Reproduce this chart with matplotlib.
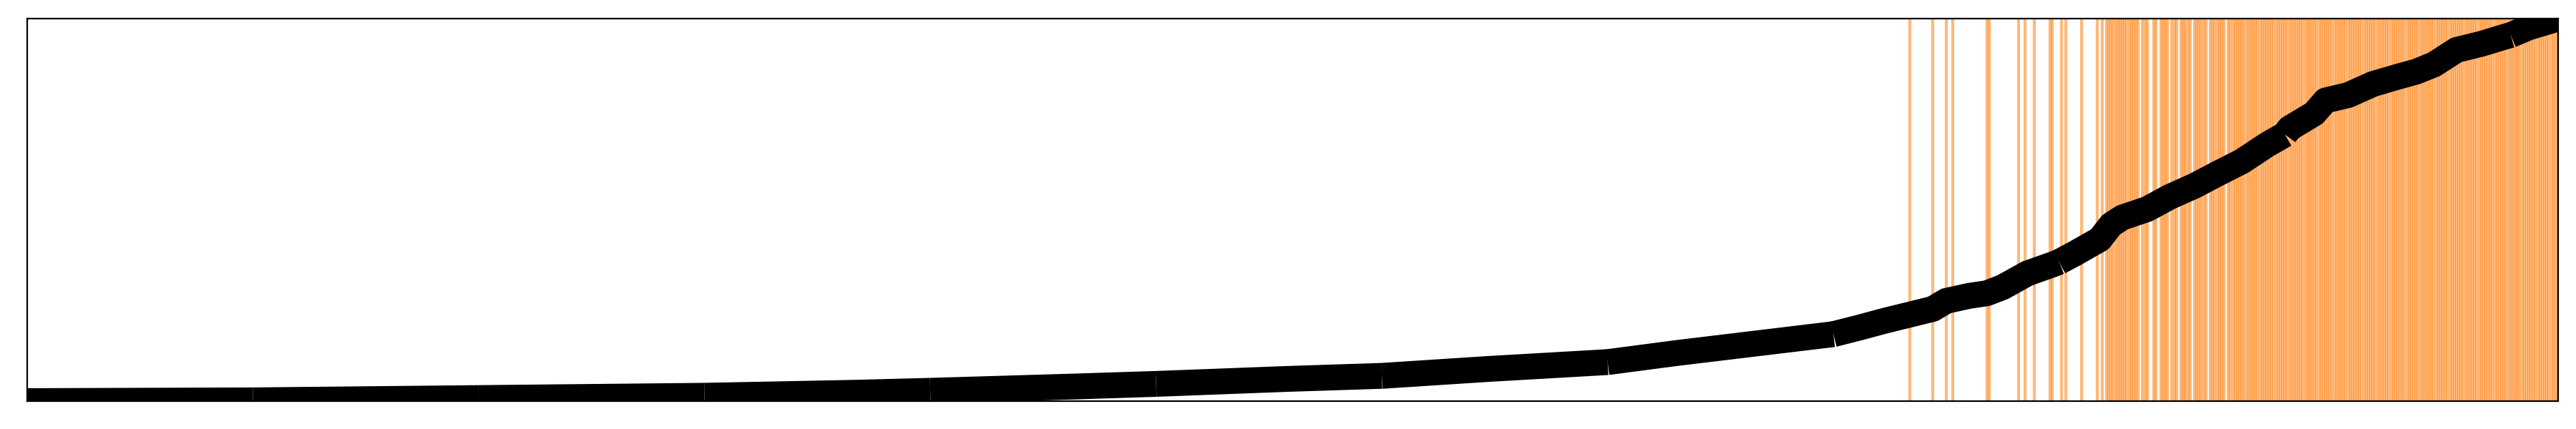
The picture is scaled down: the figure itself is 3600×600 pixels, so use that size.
import matplotlib
matplotlib.use("Agg")
import matplotlib.pyplot as plt

# ---- data ----
n_items = 1122  # ranked items, index 0 .. 1121
chunk = 100     # line drawn in chunks of 100 items

# sorted score curve (index, normalised score)
curve_idx = [0, 100, 200, 300, 368, 400, 463, 500, 558, 600, 647, 700, 731,
             800, 812, 822, 833, 844, 850, 860, 868, 875, 886, 897, 900, 907,
             918, 923, 928, 939, 949, 960, 970, 981, 992, 1000, 1002, 1013,
             1018, 1028, 1039, 1050, 1058, 1066, 1076, 1087, 1097, 1100, 1108,
             1121]
curve_val = [0.000, 0.002, 0.008, 0.014, 0.022, 0.027, 0.038, 0.045, 0.058,
             0.066, 0.084, 0.102, 0.126, 0.175, 0.193, 0.209, 0.225, 0.241,
             0.262, 0.275, 0.282, 0.298, 0.334, 0.357, 0.364, 0.386, 0.423,
             0.461, 0.480, 0.502, 0.534, 0.563, 0.594, 0.627, 0.670, 0.697,
             0.713, 0.752, 0.786, 0.800, 0.829, 0.848, 0.861, 0.880, 0.918,
             0.934, 0.952, 0.957, 0.977, 1.000]

# positions of highlighted (positive) items
marked_single = [834, 844, 850, 853, 868, 869, 882, 885, 889, 896, 897,
                 901, 903, 910, 917, 919]
marked_runs = [(921, 935), (937, 939), (942, 943), (945, 948), (950, 952),
               (954, 958), (960, 965), (967, 973), (975, 1121)]

marked = list(marked_single)
for a, b in marked_runs:
    marked.extend(range(a, b + 1))

fig = plt.figure(figsize=(18, 3), dpi=200)
ax = fig.add_axes([38 / 3600, 39 / 600, (3575 - 38) / 3600, (561 - 26) / 600])

for m in marked:
    ax.axvline(m, color="tab:orange", alpha=0.55, linewidth=1.5, zorder=1)

starts = list(range(0, n_items - 1, chunk))
for s in starts:
    e = min(s + chunk, n_items - 1)
    xs = [x for x in curve_idx if s <= x <= e]
    ys = [curve_val[curve_idx.index(x)] for x in xs]
    ax.plot(xs, ys, color="black", linewidth=13, solid_capstyle="butt",
            solid_joinstyle="round", zorder=3)

ax.set_xlim(0, n_items - 1)
ax.set_ylim(min(curve_val), max(curve_val))
ax.set_xticks([])
ax.set_yticks([])

fig.savefig("out.png", dpi=200)
